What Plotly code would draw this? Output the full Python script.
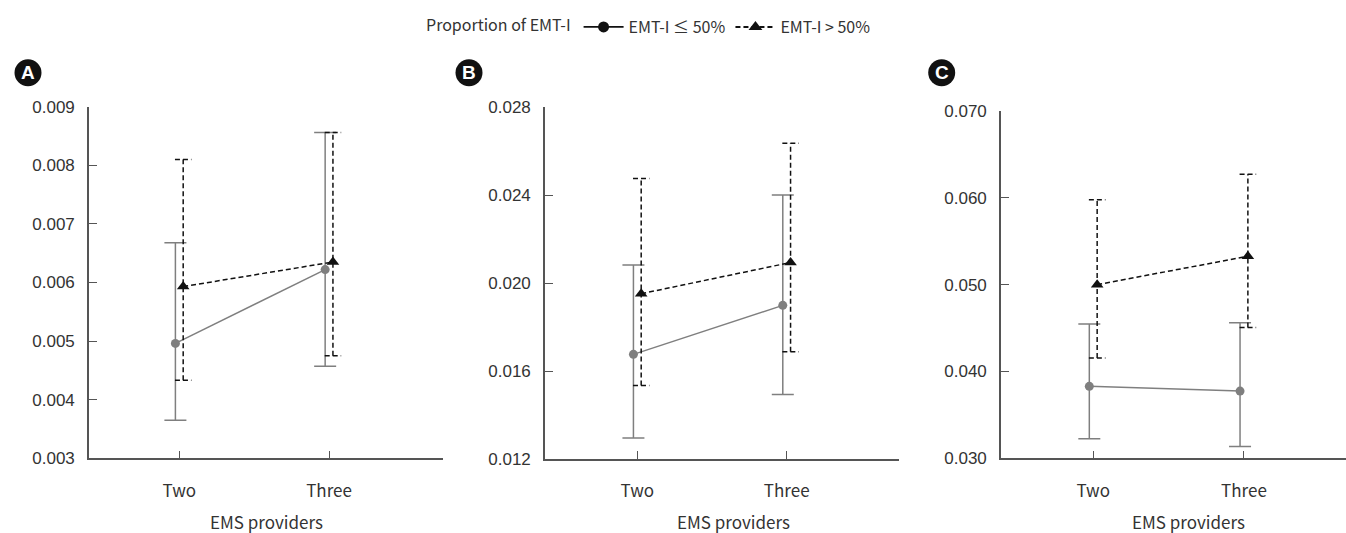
import plotly.graph_objects as go

# ---------------- data ----------------
categories = ["Two", "Three"]

a_le50_mean = [0.00496, 0.00622]
a_le50_lo = [0.00365, 0.00457]
a_le50_hi = [0.00668, 0.00856]
a_gt50_mean = [0.00593, 0.00635]
a_gt50_lo = [0.00433, 0.00475]
a_gt50_hi = [0.00810, 0.00856]

b_le50_mean = [0.01676, 0.01899]
b_le50_lo = [0.01295, 0.01493]
b_le50_hi = [0.02083, 0.02401]
b_gt50_mean = [0.01952, 0.02094]
b_gt50_lo = [0.01534, 0.01688]
b_gt50_hi = [0.02476, 0.02636]

c_le50_mean = [0.03829, 0.03774]
c_le50_lo = [0.03226, 0.03136]
c_le50_hi = [0.04548, 0.04560]
c_gt50_mean = [0.05000, 0.05327]
c_gt50_lo = [0.04154, 0.04506]
c_gt50_hi = [0.05977, 0.06271]

a_ticks = [0.003, 0.004, 0.005, 0.006, 0.007, 0.008, 0.009]
b_ticks = [0.012, 0.016, 0.020, 0.024, 0.028]
c_ticks = [0.030, 0.040, 0.050, 0.060, 0.070]

panel_letters = ["A", "B", "C"]
legend_title = "Proportion of EMT-I"
series_names = ["EMT-I ≤ 50%", "EMT-I > 50%"]
x_title = "EMS providers"

# ---------------- styling ----------------
W, H = 1346, 533
GRAY = "#7f7f7f"
BLACK = "#111111"
AXIS = "#555555"
NARROW = "Noto Sans CJK KR, Noto Sans, sans-serif"
TICKFONT = "Liberation Sans, Arial, sans-serif"
OFF = 0.026
CAP_HALF = 0.055

panels = [
    dict(le=(a_le50_mean, a_le50_lo, a_le50_hi), gt=(a_gt50_mean, a_gt50_lo, a_gt50_hi),
         ticks=a_ticks, px=(89, 443), py=(106.7, 458.3), xr=[-0.603, 1.761], title_x=0.584,
         letter_c=(28, 72.7)),
    dict(le=(b_le50_mean, b_le50_lo, b_le50_hi), gt=(b_gt50_mean, b_gt50_lo, b_gt50_hi),
         ticks=b_ticks, px=(545, 899), py=(107.3, 459), xr=[-0.618, 1.752], title_x=0.647,
         letter_c=(469, 72.7)),
    dict(le=(c_le50_mean, c_le50_lo, c_le50_hi), gt=(c_gt50_mean, c_gt50_lo, c_gt50_hi),
         ticks=c_ticks, px=(1001, 1346), py=(111, 458.3), xr=[-0.612, 1.677], title_x=0.635,
         letter_c=(941.7, 72.7)),
]

fig = go.Figure()
xpos = list(range(len(categories)))
shapes = []
annotations = []

for k, p in enumerate(panels):
    ax = "" if k == 0 else str(k + 1)
    xref, yref = "x" + ax, "y" + ax
    mean, lo, hi = p["le"]
    xs = [x - OFF for x in xpos]
    fig.add_trace(go.Scatter(
        x=xs, y=mean, mode="lines+markers", xaxis=xref, yaxis=yref,
        line=dict(color=GRAY, width=1.5),
        marker=dict(symbol="circle", size=9, color=GRAY),
        error_y=dict(type="data", symmetric=False,
                     array=[h - m for h, m in zip(hi, mean)],
                     arrayminus=[m - l for m, l in zip(mean, lo)],
                     color=GRAY, thickness=1.5, width=11),
        showlegend=False, hoverinfo="skip"))

    mean, lo, hi = p["gt"]
    xb = [x + OFF for x in xpos]
    ex, ey = [], []
    for x, l, h in zip(xb, lo, hi):
        ex += [x, x, None, x - CAP_HALF, x + CAP_HALF, None, x - CAP_HALF, x + CAP_HALF, None]
        ey += [l, h, None, h, h, None, l, l, None]
    fig.add_trace(go.Scatter(
        x=ex, y=ey, mode="lines", xaxis=xref, yaxis=yref,
        line=dict(color=BLACK, width=1.5, dash="5px,3px"),
        showlegend=False, hoverinfo="skip"))
    fig.add_trace(go.Scatter(
        x=xb, y=mean, mode="lines+markers", xaxis=xref, yaxis=yref,
        line=dict(color=BLACK, width=1.5, dash="5px,3px"),
        marker=dict(symbol="triangle-up", size=11, color=BLACK),
        showlegend=False, hoverinfo="skip"))

    x0, x1 = p["px"]
    ytop, ybot = p["py"]
    t = p["ticks"]
    fig.update_layout(**{
        "xaxis" + ax: dict(
            domain=[x0 / W, x1 / W], range=p["xr"], anchor=yref, automargin=False,
            tickvals=xpos, ticktext=categories, ticks="inside", ticklen=8,
            tickcolor=AXIS, tickwidth=1.3, showline=True, linecolor=AXIS, linewidth=1.6,
            showgrid=False, zeroline=False, fixedrange=True,
            tickfont=dict(family=NARROW, size=17, color="#333333"),
            ticklabelstandoff=16),
        "yaxis" + ax: dict(
            domain=[1 - ybot / H, 1 - ytop / H], range=[t[0], t[-1]], anchor=xref,
            automargin=False,
            tickvals=t, ticktext=[f"{v:.3f}" for v in t], ticks="inside", ticklen=8,
            tickcolor=AXIS, tickwidth=1.3, showline=True, linecolor=AXIS, linewidth=1.6,
            showgrid=False, zeroline=False, fixedrange=True,
            tickfont=dict(family=TICKFONT, size=17, color="#333333"),
            ticklabelstandoff=9),
    })

    annotations.append(dict(
        x=p["title_x"], y=1 - 521.7 / H, xref=xref, yref="paper",
        text=x_title, showarrow=False, yanchor="middle", xanchor="center",
        font=dict(family=NARROW, size=17, color="#333333")))

    cx, cy = p["letter_c"]
    r = 13.5
    shapes.append(dict(type="circle", xref="paper", yref="paper",
                       x0=(cx - r) / W, x1=(cx + r) / W,
                       y0=1 - (cy + r) / H, y1=1 - (cy - r) / H,
                       fillcolor="#111111", line=dict(width=0)))
    annotations.append(dict(
        x=cx / W, y=1 - cy / H, xref="paper", yref="paper", text="<b>%s</b>" % panel_letters[k],
        showarrow=False, xanchor="center", yanchor="middle",
        font=dict(family="Liberation Sans, Arial, sans-serif", size=19, color="white")))

# legend-only entries
fig.add_trace(go.Scatter(x=[None], y=[None], mode="lines+markers", name=series_names[0],
                         line=dict(color=BLACK, width=1.8),
                         marker=dict(symbol="circle", size=11, color=BLACK)))
fig.add_trace(go.Scatter(x=[None], y=[None], mode="lines+markers", name=series_names[1],
                         line=dict(color=BLACK, width=2, dash="5px,3px"),
                         marker=dict(symbol="triangle-up", size=12, color=BLACK)))

fig.update_layout(
    width=W, height=H,
    margin=dict(l=0, r=0, t=0, b=0, autoexpand=False),
    paper_bgcolor="white", plot_bgcolor="white",
    showlegend=True,
    legend=dict(orientation="h", x=650 / W, xanchor="center", y=1 - 27 / H, yanchor="middle",
                title=dict(text=legend_title, side="left",
                           font=dict(family=NARROW, size=16, color="#333333")),
                font=dict(family=NARROW, size=16, color="#333333"),
                itemwidth=40, bgcolor="rgba(0,0,0,0)"),
    shapes=shapes, annotations=annotations,
)

fig.write_html(
    "out.html",
    config={"displayModeBar": False},
    post_script="document.body.style.margin='0';document.body.style.overflow='hidden';",
)
